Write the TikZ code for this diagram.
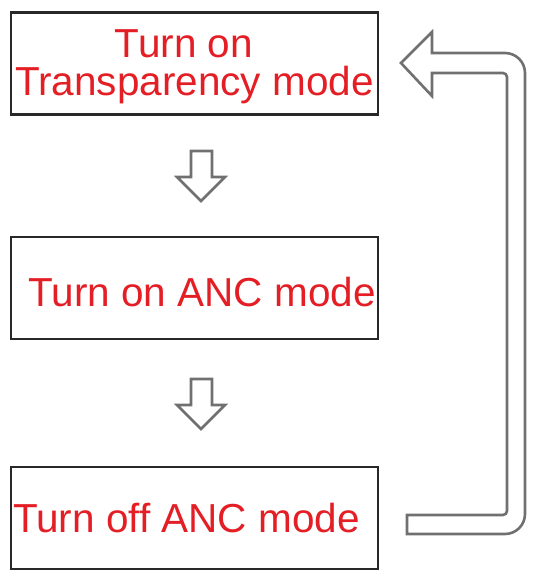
\documentclass[tikz,border=0pt]{standalone}
\usepackage{fontspec}
\setmainfont{Liberation Sans}
\usepackage{tikz}

\definecolor{modered}{RGB}{228,30,37}
\definecolor{boxline}{RGB}{40,40,40}
\definecolor{arrowgray}{RGB}{112,112,112}

\tikzset{
  modebox/.style={rectangle,draw=boxline,line width=2.4pt,minimum width=367pt,minimum height=102pt,inner sep=0pt,
    text=modered,align=center,font=\fontsize{40.5}{38}\selectfont},
  downarrow/.style={draw=arrowgray,line width=2.6pt,fill=white,line join=miter},
  backarrow/.style={draw=arrowgray,line width=2.6pt,fill=white,line join=miter}
}

\begin{document}
\begin{tikzpicture}[x=1pt,y=-1pt]
\useasboundingbox (0,0) rectangle (537,584);
% the three mode boxes
\node [modebox] (transp) at (194.5,63.5) {\rule{0pt}{34.5pt}Turn on\hspace*{21pt}\\Transparency mode};
\node [modebox] (ancon) at (194.5,288) {\rule{0pt}{36.5pt}\hspace*{15pt}Turn on ANC mode};
\node [modebox] (ancoff) at (194.5,518) {Turn off ANC mode\hspace*{16pt}};
% block arrows between the boxes
\foreach \y in {151,379}
  \draw[downarrow] (191,\y) -- (212,\y) -- (212,\y+26) -- (225,\y+26) -- (201,\y+50) -- (177,\y+26) -- (191,\y+26) -- cycle;
% back to the top
\draw[backarrow] (407,515) -- (503,515) arc[start angle=90,end angle=0,radius=4] -- (507,77)
  arc[start angle=0,end angle=-90,radius=4] -- (432,73) -- (432,96) -- (401,63) -- (432,32) -- (432,53)
  -- (505,53) arc[start angle=-90,end angle=0,radius=20] -- (525,514)
  arc[start angle=0,end angle=90,radius=20] -- (407,534) -- cycle;
\end{tikzpicture}
\end{document}
